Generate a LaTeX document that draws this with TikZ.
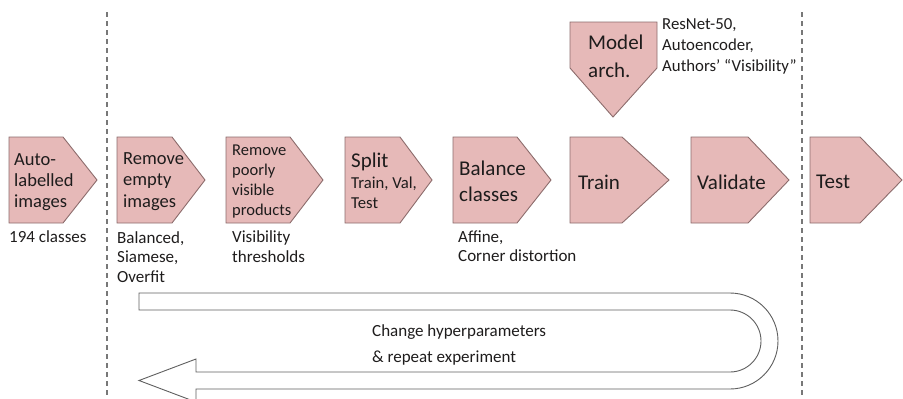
\documentclass[tikz,border=0pt]{standalone}
\usepackage{fontspec}
\setmainfont{Carlito}
\definecolor{boxfill}{RGB}{230,185,184}
\definecolor{boxline}{RGB}{140,108,108}
\definecolor{sepgrey}{RGB}{120,120,120}
\definecolor{loopgrey}{RGB}{95,95,95}
\definecolor{txt}{RGB}{30,28,28}
\newcommand\fs[2]{\fontsize{#1}{#2}\selectfont}
\newcommand\chevron[4]{%
  \path[chev] (#2,137) -- (#3,137) -- (#4,180) -- (#3,223) -- (#2,223) -- cycle;
  \coordinate (#1) at (#4,180);}
\begin{document}
\begin{tikzpicture}[x=1pt,y=-1pt,
  chev/.style={draw=boxline, fill=boxfill, line width=0.9pt, line join=miter},
  lbl/.style={anchor=west, inner sep=0pt, align=left, text=txt},
  sepline/.style={draw=sepgrey, line width=1.1pt, dash pattern=on 5pt off 4pt},
  looparrow/.style={draw=loopgrey, fill=white, line width=0.9pt, line join=miter}]
\useasboundingbox (0,0) rectangle (903,399);

% separators
\coordinate (s1a) at (107,12); \coordinate (s1b) at (107,399);
\coordinate (s2a) at (802,12); \coordinate (s2b) at (802,399);
\draw[sepline] (s1a) -- (s1b);
\draw[sepline] (s2a) -- (s2b);

% chevrons
\chevron{c1}{9}{63}{97}
\chevron{c2}{117}{172}{205}
\chevron{c3}{226}{290}{323}
\chevron{c4}{345}{400}{432}
\chevron{c5}{453}{517}{551}
\chevron{c6}{570}{622}{669}
\chevron{c7}{691}{748}{789}
\chevron{c8}{810}{860}{902}
% model arch (pointing down)
\path[chev] (570,22) -- (657,22) -- (657,68) -- (613,117) -- (570,68) -- cycle;

% box texts
\node[lbl, font=\fs{18.5}{21}] (t1) at (14,182.5) {Auto-\\labelled\\images};
\node[lbl, font=\fs{18.5}{21.5}] (t2) at (123,181.5) {Remove\\empty\\images};
\node[lbl, font=\fs{16.5}{20}] (t3) at (232,182) {Remove\\poorly\\visible\\products};
\node[lbl, font=\fs{21}{24}] (t4a) at (351,162) {Split};
\node[lbl, font=\fs{16.7}{20}] (t4b) at (351,193) {Train, Val,\\Test};
\node[lbl, font=\fs{21}{26}] (t5) at (459,181) {Balance\\classes};
\node[lbl, font=\fs{21}{24}] (t6) at (578,182) {Train};
\node[lbl, font=\fs{21}{24}] (t7) at (697,182) {Validate};
\node[lbl, font=\fs{21}{24}] (t8) at (816,182) {Test};
\node[lbl, font=\fs{21}{28}] (tm) at (588,56) {Model\\arch.};

% side notes
\node[lbl, font=\fs{16.8}{21}] (nm) at (662,46) {ResNet-50,\\Autoencoder,\\Authors’ “Visibility”};
\node[lbl, font=\fs{17}{20}] (n1) at (9,237) {194 classes};
\node[lbl, font=\fs{17}{19.5}] (n2) at (117,257) {Balanced,\\Siamese,\\Overfit};
\node[lbl, font=\fs{17}{20}] (n3) at (232,247) {Visibility\\thresholds};
\node[lbl, font=\fs{17}{18.5}] (n5) at (458,246) {Affine,\\Corner distortion};

% loop arrow
\coordinate (la) at (139,293);
\path[looparrow] (la) -- (730,293) arc[start angle=-90, end angle=90, radius=48]
  -- (196,389) -- (196,402) -- (139,380.5) -- (196,359) -- (196,372) -- (730,372)
  arc[start angle=90, end angle=-90, radius=31] -- (139,310) -- cycle;
\node[lbl, font=\fs{17}{26}] (lt) at (372,345) {Change hyperparameters\\\& repeat experiment};
\end{tikzpicture}
\end{document}
